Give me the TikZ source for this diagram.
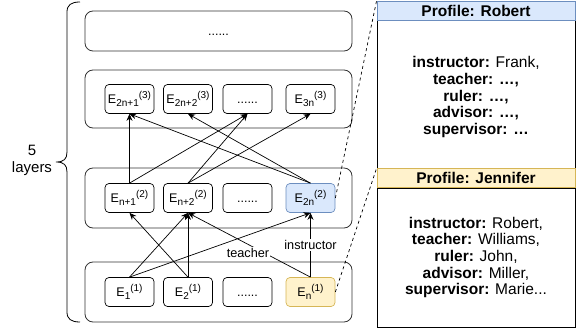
\documentclass[tikz,border=0pt]{standalone}
\usepackage{fontspec}
\setmainfont{Liberation Sans}
\usetikzlibrary{arrows.meta}
\definecolor{bluefill}{HTML}{DAE8FC}
\definecolor{bluedraw}{HTML}{6C8EBF}
\definecolor{yelfill}{HTML}{FFF2CC}
\definecolor{yeldraw}{HTML}{D6B656}
\newcommand{\Ent}[2]{E\raisebox{-3pt}{\fontsize{10}{10}\selectfont #1}\raisebox{5.5pt}{\fontsize{10}{10}\selectfont #2}}
\begin{document}
\begin{tikzpicture}[x=1pt,y=-1pt,
  layerbox/.style={draw=black!80, rounded corners=8pt, line width=0.8pt, minimum width=267pt, inner sep=0pt, font=\fontsize{12.5}{14}\selectfont},
  ent/.style={draw, rounded corners=4pt, line width=0.7pt, minimum width=49pt, minimum height=29pt, inner sep=0pt, font=\fontsize{12.5}{14}\selectfont},
  arr/.style={-{Stealth[length=7pt,width=6pt]}, line width=0.7pt},
  elabel/.style={fill=white, inner sep=1pt, font=\fontsize{12.7}{14}\selectfont},
  dline/.style={dash pattern=on 3pt off 3pt, line width=0.7pt},
  profbody/.style={draw, line width=0.8pt, minimum width=198pt, align=center, inner sep=0pt, font=\fontsize{15.5}{16.7}\selectfont},
  profhead/.style={line width=0.8pt, minimum width=198pt, minimum height=19pt, inner sep=0pt, font=\fontsize{15.5}{16}\selectfont\bfseries}
]
\useasboundingbox (0,0) rectangle (578,331);

% layer boxes
\node[layerbox, minimum height=40pt] (L4) at (218.5,31) {\vphantom{E}......};
\node[layerbox, minimum height=58pt] (L3) at (218.5,99) {};
\node[layerbox, minimum height=60pt] (L2) at (218.5,198) {};
\node[layerbox, minimum height=60pt] (L1) at (218.5,292) {};

% layer 3
\node[ent] (n31) at (129.5,99) {\Ent{2n+1}{(3)}};
\node[ent] (n32) at (188,99) {\Ent{2n+2}{(3)}};
\node[ent] (n33) at (247.5,99) {\vphantom{E}......};
\node[ent] (n34) at (310.5,99) {\Ent{3n}{(3)}};
% layer 2
\node[ent] (n21) at (129.5,198) {\Ent{n+1}{(2)}};
\node[ent] (n22) at (188,198) {\Ent{n+2}{(2)}};
\node[ent] (n23) at (247.5,198) {\vphantom{E}......};
\node[ent, draw=bluedraw, fill=bluefill] (n24) at (310.5,198) {\Ent{2n}{(2)}};
% layer 1
\node[ent] (n11) at (129.5,292) {\Ent{1}{(1)}};
\node[ent] (n12) at (188,292) {\Ent{2}{(1)}};
\node[ent] (n13) at (247.5,292) {\vphantom{E}......};
\node[ent, draw=yeldraw, fill=yelfill] (n14) at (310.5,292) {\Ent{n}{(1)}};

% edges layer 2 -> 3
\draw[arr] (n21.north) -- (n31.south);
\draw[arr] (n21.north) -- (n33.south);
\draw[arr] (n22.north) -- (n33.south);
\draw[arr] (n22.north) -- (n34.south);
\draw[arr] (n24.north) -- (n31.south);
\draw[arr] (n24.north) -- (n32.south);

% edges layer 1 -> 2
\draw[arr] (n11.north) -- (n22.south);
\draw[arr] (n11.north) -- (n24.south);
\draw[arr] (n12.north) -- (n21.south);
\draw[arr] (n12.north) -- (n22.south);
\draw[arr] (n14.north) -- (n22.south);
\node[elabel] (lteacher) at (248,253) {teacher};
\draw[arr] (n14.north) -- node[elabel] (linstr) {instructor} (n24.south);

% brace and label
\draw[line width=0.8pt] (80,2) .. controls (71,2) and (67,5) .. (67,12) -- (67,152)
  .. controls (67,159) and (64,162) .. (56,162)
  .. controls (64,162) and (67,165) .. (67,172) -- (67,312)
  .. controls (67,319) and (71,322) .. (80,322);
\node[align=center, font=\fontsize{15}{17}\selectfont] (layers) at (32,160) {5\\layers};

% profiles
\node[profbody, minimum height=150pt] (RB) at (476,95) {};
\node[align=center, inner sep=0pt, font=\fontsize{15.5}{16.7}\selectfont] (RT) at (476,97) {\textbf{instructor:} Frank,\\\textbf{teacher: …,}\\\textbf{ruler: …,}\\\textbf{advisor: …,}\\\textbf{supervisor: …}};
\node[profhead, draw=bluedraw, fill=bluefill] (RH) at (476,10.5) {Profile: Robert};
\node[profbody, minimum height=139pt] (JB) at (476,257.5) {\textbf{instructor:} Robert,\\\textbf{teacher:} Williams,\\\textbf{ruler:} John,\\\textbf{advisor:} Miller,\\\textbf{supervisor:} Marie...};
\node[profhead, draw=yeldraw, fill=yelfill] (JH) at (476,178) {Profile: Jennifer};

% dashed connectors
\draw[dline] (n24.east) -- (RH.north west);
\draw[dline] (n14.east) -- (JH.north west);
\end{tikzpicture}
\end{document}
